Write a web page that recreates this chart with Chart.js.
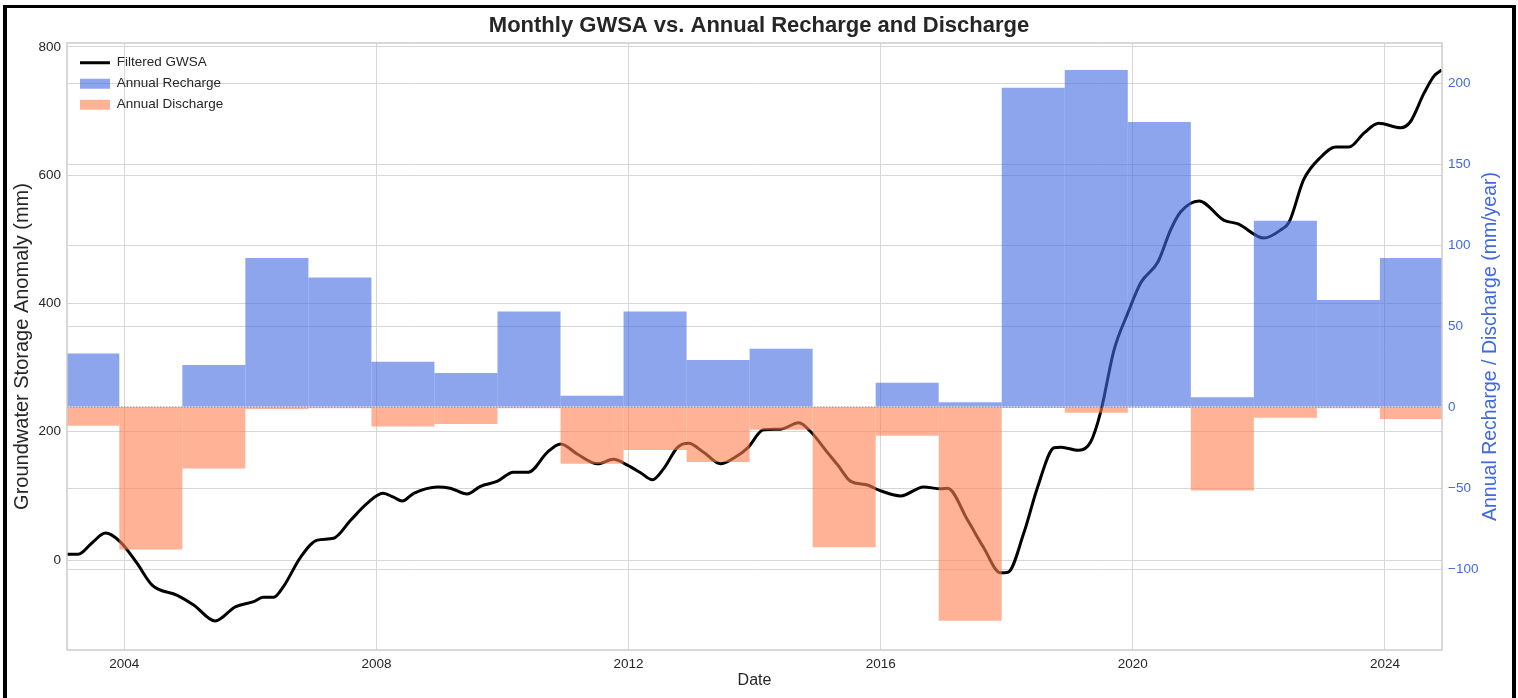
<!DOCTYPE html>
<html lang="en">
<head>
  <meta charset="UTF-8">
  <title>Monthly GWSA vs. Annual Recharge and Discharge</title>
  <script src="https://cdn.jsdelivr.net/npm/chart.js"></script>
  <style>
    body { margin: 0; background: #fff; }
    .wrap { position: relative; width: 1518px; height: 698px; overflow: hidden; }
    .frame { position: absolute; left: 3px; top: 5px; width: 1505px; height: 760px; border: 4px solid #000; border-top-width: 3px; pointer-events: none; }
  </style>
</head>
<body>
  <div class="wrap">
    <canvas id="gwsaChart" width="1518" height="698"></canvas>
    <div class="frame"></div>
  </div>
  <script>
    // filtered GWSA (mm), x in decimal years
    const gwsaDates = [2003.09, 2003.27, 2003.49, 2003.7, 2003.94, 2004.2, 2004.44, 2004.84, 2005.1, 2005.44,
      2005.76, 2006.05, 2006.2, 2006.37, 2006.52, 2006.8, 2007.06, 2007.32, 2007.59, 2007.86,
      2008.1, 2008.27, 2008.41, 2008.59, 2008.97, 2009.17, 2009.44, 2009.65, 2009.92, 2010.17,
      2010.41, 2010.71, 2010.92, 2011.19, 2011.51, 2011.76, 2011.98, 2012.19, 2012.38, 2012.56,
      2012.78, 2012.95, 2013.19, 2013.46, 2013.67, 2013.89, 2014.14, 2014.41, 2014.7, 2014.89,
      2015.16, 2015.32, 2015.52, 2015.79, 2015.97, 2016.32, 2016.68, 2016.95, 2017.06, 2017.38,
      2017.63, 2017.9, 2018.02, 2018.27, 2018.49, 2018.75, 2018.86, 2019.14, 2019.33, 2019.49,
      2019.7, 2019.92, 2020.13, 2020.4, 2020.6, 2020.76, 2021.05, 2021.44, 2021.67, 2022.08,
      2022.35, 2022.48, 2022.71, 2022.98, 2023.22, 2023.43, 2023.67, 2023.9, 2024.25, 2024.4,
      2024.62, 2024.78, 2024.9];
    const gwsaValues = [9, 9, 27, 42, 28, -5, -39, -55, -70, -95,
      -73, -65, -58, -58, -42, 5, 31, 34, 62, 89,
      104, 98, 92, 104, 114, 112, 103, 115, 123, 137,
      137, 168, 181, 165, 150, 157, 148, 136, 125, 143,
      176, 182, 168, 150, 159, 175, 203, 204, 214, 200,
      167, 148, 123, 117, 109, 100, 114, 111, 112, 62,
      20, -20, -19, 42, 114, 175, 176, 171, 184, 231,
      327, 385, 433, 465, 515, 543, 560, 530, 524, 502,
      515, 527, 593, 628, 644, 644, 666, 681, 674, 683,
      728, 755, 764];

    // annual recharge / discharge (mm/year)
    const barYears = [2003, 2004, 2005, 2006, 2007, 2008, 2009, 2010, 2011, 2012, 2013,
      2014, 2015, 2016, 2017, 2018, 2019, 2020, 2021, 2022, 2023, 2024];
    const recharge = [33, 0, 26, 92, 80, 28, 21, 59, 7, 59, 29,
      36, 0, 15, 3, 197, 208, 176, 6, 115, 66, 92];
    const discharge = [-11.5, -88, -38, -1.2, -0.8, -12, -10.5, -0.8, -35, -26.5, -34,
      -14, -86.5, -17.7, -132, -0.6, -3.5, -0.3, -51.5, -6.6, -0.8, -7.4];
    const barCenterOffset = 0.42;

    const xTicks = [2004, 2008, 2012, 2016, 2020, 2024];
    const leftTicks = [0, 200, 400, 600, 800];
    const rightTicks = [-100, -50, 0, 50, 100, 150, 200];

    Chart.defaults.font.family = '"Liberation Sans", Arial, sans-serif';
    const textColor = '#262626';
    const blue = '#4169E1';
    const gridColor = '#d6d6d6';
    const minus = v => String(v).replace('-', '\u2212');

    const extras = {
      id: 'extras',
      beforeDraw(chart) {
        // keep the legend inside the upper left corner of the plot
        const lg = chart.legend, a = chart.chartArea;
        if (lg) {
          const w = lg.right - lg.left, h = lg.bottom - lg.top;
          lg.left = a.left + 5.5;
          lg.top = a.top + 5.5;
          lg.right = lg.left + w;
          lg.bottom = lg.top + h;
        }
      },
      afterDatasetsDraw(chart) {
        const { ctx, chartArea: a, scales } = chart;
        const y0 = scales.y1.getPixelForValue(0);
        ctx.save();
        ctx.strokeStyle = '#8c8c8c';
        ctx.lineWidth = 1;
        ctx.setLineDash([1.5, 1.5]);
        ctx.beginPath();
        ctx.moveTo(a.left, y0);
        ctx.lineTo(a.right, y0);
        ctx.stroke();
        ctx.setLineDash([]);
        ctx.strokeStyle = '#cccccc';
        ctx.lineWidth = 1.5;
        ctx.strokeRect(a.left, a.top, a.right - a.left, a.bottom - a.top);
        // right axis title, reading bottom to top like the left one
        ctx.translate(1491, (a.top + a.bottom) / 2);
        ctx.rotate(-Math.PI / 2);
        ctx.fillStyle = blue;
        ctx.font = '19.5px "Liberation Sans", Arial, sans-serif';
        ctx.textAlign = 'center';
        ctx.textBaseline = 'middle';
        ctx.fillText('Annual Recharge / Discharge (mm/year)', 0, 0);
        ctx.restore();
      }
    };

    new Chart(document.getElementById('gwsaChart'), {
      type: 'bar',
      data: {
        datasets: [
          {
            type: 'line',
            label: 'Filtered GWSA',
            data: gwsaDates.map((d, i) => ({ x: d, y: gwsaValues[i] })),
            borderColor: '#000',
            borderWidth: 3,
            pointRadius: 0,
            pointStyle: 'line',
            cubicInterpolationMode: 'monotone',
            yAxisID: 'y',
            order: 3
          },
          {
            label: 'Annual Recharge',
            data: barYears.map((yr, i) => ({ x: yr + barCenterOffset, y: recharge[i] })),
            backgroundColor: 'rgba(65,105,225,0.6)',
            yAxisID: 'y1',
            order: 1,
            clip: 0,
            grouped: false,
            inflateAmount: 0,
            barPercentage: 1,
            categoryPercentage: 1
          },
          {
            label: 'Annual Discharge',
            data: barYears.map((yr, i) => ({ x: yr + barCenterOffset, y: discharge[i] })),
            backgroundColor: 'rgba(255,127,80,0.6)',
            yAxisID: 'y1',
            order: 2,
            clip: 0,
            grouped: false,
            inflateAmount: 0,
            barPercentage: 1,
            categoryPercentage: 1
          }
        ]
      },
      options: {
        responsive: false,
        animation: false,
        devicePixelRatio: 1,
        layout: { padding: 0 },
        scales: {
          x: {
            type: 'linear',
            min: 2003.09,
            max: 2024.905,
            offset: false,
            afterBuildTicks: s => { s.ticks = xTicks.map(v => ({ value: v })); },
            afterFit: s => { s.height = 48; },
            grid: { color: gridColor, drawTicks: false, offset: false },
            border: { display: false },
            ticks: { padding: 6, color: textColor, font: { size: 13.5 }, callback: v => String(v) },
            title: { display: true, text: 'Date', color: textColor, font: { size: 16 }, padding: { top: 0, bottom: 8 } }
          },
          y: {
            position: 'left',
            min: -140.3,
            max: 806.2,
            afterBuildTicks: s => { s.ticks = leftTicks.map(v => ({ value: v })); },
            afterFit: s => { s.width = 67; },
            grid: { color: gridColor, drawTicks: false },
            border: { display: false },
            ticks: { padding: 6, color: textColor, font: { size: 13.5 }, callback: v => minus(v) },
            title: { display: true, text: 'Groundwater Storage Anomaly (mm)', color: textColor, font: { size: 20 }, padding: { top: 10, bottom: 0 } }
          },
          y1: {
            position: 'right',
            min: -150,
            max: 224.7,
            afterBuildTicks: s => { s.ticks = rightTicks.map(v => ({ value: v })); },
            afterFit: s => { s.width = 76; },
            grid: { color: gridColor, drawTicks: false },
            border: { display: false },
            ticks: { padding: 6, color: blue, font: { size: 13.5 }, callback: v => minus(v) }
          }
        },
        plugins: {
          title: {
            display: true,
            text: 'Monthly GWSA vs. Annual Recharge and Discharge',
            color: textColor,
            font: { size: 22, weight: 'bold' },
            padding: { top: 13, bottom: 3.6 }
          },
          legend: {
            position: 'chartArea',
            align: 'start',
            labels: {
              usePointStyle: true,
              pointStyleWidth: 30,
              boxHeight: 10,
              padding: 7.5,
              color: textColor,
              font: { size: 13.5 },
              sort: (a, b) => a.datasetIndex - b.datasetIndex,
              generateLabels: chart => {
                const items = Chart.defaults.plugins.legend.labels.generateLabels(chart);
                items.forEach(it => {
                  if (it.datasetIndex === 0) {
                    it.pointStyle = 'line';
                    it.strokeStyle = '#000';
                    it.lineWidth = 3;
                  } else {
                    it.pointStyle = 'rect';
                    it.lineWidth = 0;
                    it.strokeStyle = it.fillStyle;
                  }
                });
                return items;
              }
            }
          },
          tooltip: { enabled: false }
        }
      },
      plugins: [extras]
    });
  </script>
</body>
</html>
